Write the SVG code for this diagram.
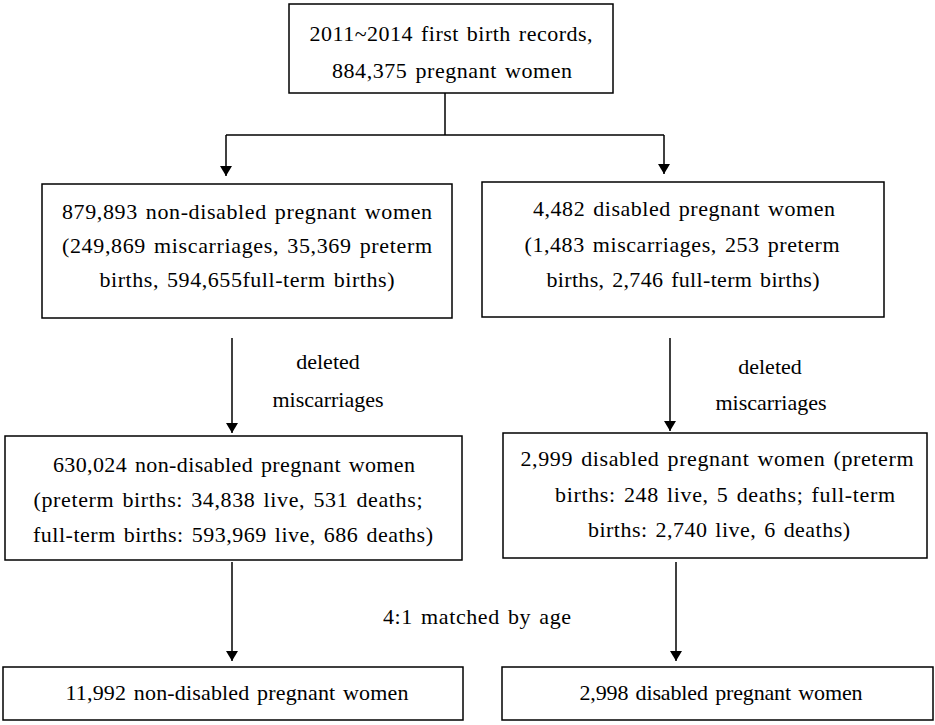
<svg xmlns="http://www.w3.org/2000/svg" width="935" height="725" viewBox="0 0 935 725">
<style>
.box{fill:#fff;stroke:#000;stroke-width:1.5}
.t{font-family:"Liberation Serif",serif;font-size:22px;fill:#000;word-spacing:2px}
.ln{stroke:#000;stroke-width:1.5;fill:none}
</style>
<defs>
<marker id="a" viewBox="0 0 10 12" markerWidth="10" markerHeight="12" refX="10" refY="6" orient="auto" markerUnits="userSpaceOnUse">
<path d="M0,0 L10,6 L0,12 Z" fill="#000"/>
</marker>
</defs>
<rect width="935" height="725" fill="#fff"/>
<g id="connectors">
<path class="ln" d="M445,93 V135"/>
<path class="ln" d="M226,135 H664"/>
<path class="ln" d="M226,135 V176" marker-end="url(#a)"/>
<path class="ln" d="M664,135 V174" marker-end="url(#a)"/>
<path class="ln" d="M232,338 V433" marker-end="url(#a)"/>
<path class="ln" d="M670,338 V431" marker-end="url(#a)"/>
<path class="ln" d="M232,562 V661" marker-end="url(#a)"/>
<path class="ln" d="M676,562 V661" marker-end="url(#a)"/>
<text class="t" x="328" y="369" text-anchor="middle">deleted</text>
<text class="t" x="328" y="407" text-anchor="middle">miscarriages</text>
<text class="t" x="770" y="374" text-anchor="middle">deleted</text>
<text class="t" x="771" y="410" text-anchor="middle">miscarriages</text>
<text class="t" x="477" y="624" text-anchor="middle" textLength="188" lengthAdjust="spacing">4:1 matched by age</text>
</g>
<g id="n0">
<rect class="box" x="289" y="4" width="324" height="89"/>
<text class="t" x="451" y="41" text-anchor="middle" textLength="283" lengthAdjust="spacing">2011~2014  first birth records,</text>
<text class="t" x="452" y="78" text-anchor="middle" textLength="240" lengthAdjust="spacing">884,375  pregnant women</text>
</g>
<g id="n1">
<rect class="box" x="42" y="184" width="410" height="134"/>
<text class="t" x="247" y="219" text-anchor="middle" textLength="370" lengthAdjust="spacing">879,893  non-disabled  pregnant women</text>
<text class="t" x="247" y="253" text-anchor="middle" textLength="370" lengthAdjust="spacing">(249,869  miscarriages, 35,369  preterm</text>
<text class="t" x="247" y="287" text-anchor="middle" textLength="295" lengthAdjust="spacing">births, 594,655full-term  births)</text>
</g>
<g id="n2">
<rect class="box" x="482" y="182" width="402" height="135"/>
<text class="t" x="684" y="216" text-anchor="middle" textLength="302" lengthAdjust="spacing">4,482  disabled pregnant women</text>
<text class="t" x="682" y="252" text-anchor="middle" textLength="315" lengthAdjust="spacing">(1,483  miscarriages, 253 preterm</text>
<text class="t" x="683" y="287" text-anchor="middle" textLength="273" lengthAdjust="spacing">births, 2,746  full-term  births)</text>
</g>
<g id="n3">
<rect class="box" x="5" y="436" width="457" height="124"/>
<text class="t" x="234" y="472" text-anchor="middle" textLength="362" lengthAdjust="spacing">630,024  non-disabled  pregnant women</text>
<text class="t" x="228" y="507" text-anchor="middle" textLength="389" lengthAdjust="spacing">(preterm births:  34,838  live,  531  deaths;</text>
<text class="t" x="233" y="542" text-anchor="middle" textLength="400" lengthAdjust="spacing">full-term  births:  593,969  live,  686 deaths)</text>
</g>
<g id="n4">
<rect class="box" x="503" y="433" width="424" height="125"/>
<text class="t" x="717" y="466" text-anchor="middle" textLength="393" lengthAdjust="spacing">2,999  disabled pregnant women (preterm</text>
<text class="t" x="725" y="502" text-anchor="middle" textLength="340" lengthAdjust="spacing">births:  248  live,  5 deaths; full-term</text>
<text class="t" x="719" y="537" text-anchor="middle" textLength="262" lengthAdjust="spacing">births:  2,740  live,  6 deaths)</text>
</g>
<g id="n5">
<rect class="box" x="3" y="667" width="460" height="53"/>
<text class="t" x="237" y="700" text-anchor="middle" textLength="343" lengthAdjust="spacing">11,992  non-disabled  pregnant women</text>
</g>
<g id="n6">
<rect class="box" x="502" y="667" width="431" height="53"/>
<text class="t" x="721" y="700" text-anchor="middle" textLength="283" lengthAdjust="spacing">2,998  disabled pregnant women</text>
</g>
</svg>
